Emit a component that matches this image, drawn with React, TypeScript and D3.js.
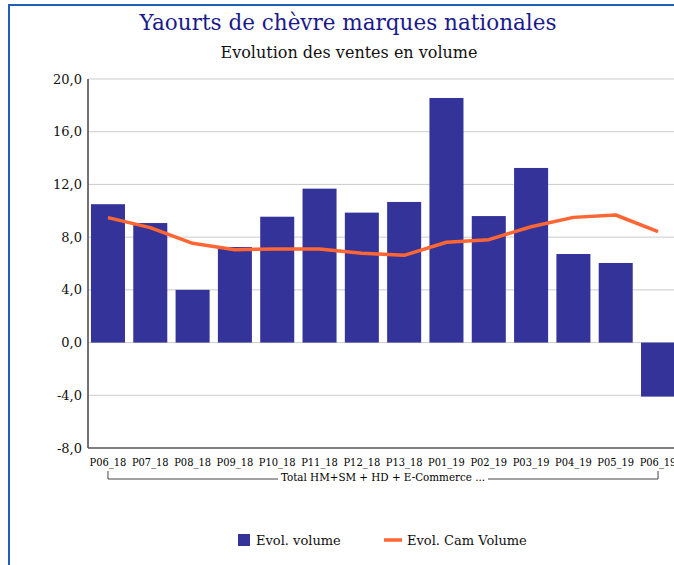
import React from "react";
import * as d3 from "d3";

const categories = ["P06_18","P07_18","P08_18","P09_18","P10_18","P11_18","P12_18","P13_18","P01_19","P02_19","P03_19","P04_19","P05_19","P06_19"];
const evolVolume = [10.5, 9.07, 4.0, 7.25, 9.55, 11.68, 9.86, 10.67, 18.56, 9.6, 13.25, 6.72, 6.04, -4.1];
const evolCamVolume = [9.48, 8.72, 7.53, 7.05, 7.1, 7.1, 6.77, 6.62, 7.61, 7.81, 8.79, 9.5, 9.68, 8.42];
const yTicks = [-8, -4, 0, 4, 8, 12, 16, 20];
const groupLabel = "Total HM+SM + HD + E-Commerce ...";
const title = "Yaourts de chèvre marques nationales";
const subtitle = "Evolution des ventes en volume";
const legendLabels = ["Evol. volume", "Evol. Cam Volume"];

const W = 674, H = 565;
const FONT = "'DejaVu Serif', serif";
const BAR = "#333399";
const LINE = "#ff6633";

export default function App() {
  const x = d3.scaleBand<string>().domain(categories).range([88, 678]).paddingInner(0.196).paddingOuter(0.07);
  const y = d3.scaleLinear().domain([-8, 20]).range([448, 79]);
  const fmt = (v: number) => d3.format(".1f")(v).replace(".", ",").replace("−", "-");
  const line = d3.line<number>()
    .x((_, i) => (x(categories[i]) as number) + x.bandwidth() / 2)
    .y((d) => y(d));
  const c0 = (x(categories[0]) as number) + x.bandwidth() / 2;
  const cN = (x(categories[categories.length - 1]) as number) + x.bandwidth() / 2;
  const midX = (c0 + cN) / 2;

  return (
    <div style={{ position: "absolute", left: 0, top: 0 }}>
      <svg width={W} height={H} style={{ display: "block", fontFamily: FONT }}>
        <rect x={0} y={0} width={W} height={H} fill="#fff" />
        {/* frame */}
        <line x1={8} y1={5} x2={W} y2={5} stroke="#1f5fb5" strokeWidth={2} />
        <line x1={9} y1={5} x2={9} y2={H} stroke="#1f5fb5" strokeWidth={2} />
        <text x={348} y={30} textAnchor="middle" fontSize={21.5} fill="#1a1a8c">{title}</text>
        <text x={349} y={58} textAnchor="middle" fontSize={16} fill="#111">{subtitle}</text>
        {/* grid */}
        {yTicks.map((t) => (
          <g key={t}>
            {t !== -8 && <line x1={88} x2={W} y1={y(t)} y2={y(t)} stroke="#cccccc" strokeWidth={1} />}
            <text x={82} y={y(t) + 4.5} textAnchor="end" fontSize={13} fill="#111">{fmt(t)}</text>
          </g>
        ))}
        {/* bars */}
        {evolVolume.map((v, i) => (
          <rect key={i} x={x(categories[i])} width={x.bandwidth()}
            y={Math.min(y(v), y(0))} height={Math.abs(y(v) - y(0))} fill={BAR} />
        ))}
        {/* axes */}
        <line x1={88} x2={88} y1={79} y2={448} stroke="#444" strokeWidth={1.5} />
        <line x1={88} x2={W} y1={448} y2={448} stroke="#555" strokeWidth={1.5} />
        {/* line */}
        <path d={line(evolCamVolume) || ""} fill="none" stroke={LINE} strokeWidth={3.5} strokeLinejoin="round" />
        {/* x labels */}
        {categories.map((c) => (
          <text key={c} x={(x(c) as number) + x.bandwidth() / 2} y={466} textAnchor="middle" fontSize={11} fill="#000" style={{ fontStretch: "condensed" }}>{c}</text>
        ))}
        {/* group bracket */}
        <path d={`M${c0},471V479H${midX - 105}M${midX + 105},479H${cN}V471`} fill="none" stroke="#444" strokeWidth={1} />
        <text x={midX} y={481} textAnchor="middle" fontSize={11.5} fill="#000" style={{ fontStretch: "condensed" }}>{groupLabel}</text>
        {/* legend */}
        <rect x={238} y={534} width={12} height={12} fill={BAR} />
        <text x={256} y={545} fontSize={13} fill="#111">{legendLabels[0]}</text>
        <line x1={384} x2={402} y1={540} y2={540} stroke={LINE} strokeWidth={3.5} />
        <text x={407} y={545} fontSize={13} fill="#111">{legendLabels[1]}</text>
      </svg>
    </div>
  );
}
